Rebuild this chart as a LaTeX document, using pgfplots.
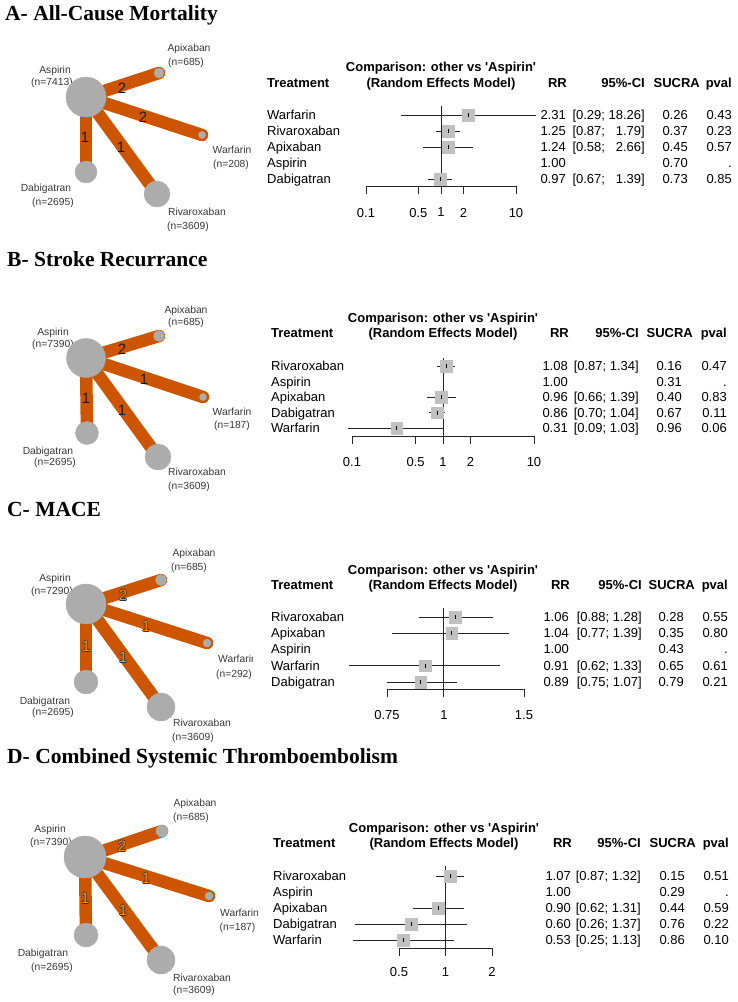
\documentclass[border=0pt]{standalone}
\usepackage{pgfplots}
\pgfplotsset{compat=1.18}
\usepackage{fontspec}
\setmainfont{Liberation Sans}
\newfontfamily\titlefont{Liberation Serif}

\definecolor{edgecol}{RGB}{205,85,0}
\definecolor{nodecol}{RGB}{172,172,172}
\definecolor{boxcol}{RGB}{192,192,192}
\definecolor{lblcol}{RGB}{55,55,55}
\definecolor{numcol}{RGB}{245,150,30}

\newcommand\ff{\fontsize{13}{15}\selectfont}
\newcommand\tf{\titlefont\bfseries\fontsize{21.5}{24}\selectfont}

\pgfplotsset{
  netaxis/.style={hide axis, scale only axis, xmin=0, y dir=reverse, anchor=south west},
  netedge/.style={edgecol, line width=12.5pt, line cap=round},
  netnode/.style={scatter, only marks, mark=*,
    scatter/use mapped color={draw=nodecol, fill=nodecol},
    visualization depends on={\thisrow{r} \as \rad},
    scatter/@pre marker code/.append style={/tikz/mark size=\rad}},
  fpaxis/.style={scale only axis, axis x line*=bottom, axis y line=none,
    tick align=outside, major tick length=7.5pt, clip=false, anchor=south west,
    axis line style={black!85, line width=0.9pt},
    major tick style={black!85, line width=0.9pt},
    xminorticks=false,
    xticklabel style={font=\ff}},
  ciline/.style={black!85, line width=0.9pt},
  estbox/.style={only marks, mark=square*, mark size=5.8pt, boxcol},
  esttick/.style={only marks, mark=|, mark size=2pt, black, mark options={line width=0.7pt}},
}

% network labels (inside the network axes)
\newcommand\nlab[3]{\node[anchor=base, yshift=-3.7pt, inner sep=0pt, text=lblcol,
  font=\fontsize{10.3}{12}\selectfont] at (axis cs:#1,#2) {#3};}
\newcommand\elab[3]{\node[anchor=base, yshift=-5.4pt, inner sep=0pt,
  font=\fontsize{15}{15}\selectfont, text=black!90] at (axis cs:#1,#2) {#3};}
\newcommand\olab[3]{%
  \node[anchor=base, yshift=-5.4pt, xshift=0.7pt, inner sep=0pt, font=\fontsize{15}{15}\selectfont, text=black!80] at (axis cs:#1,#2) {#3};
  \node[anchor=base, yshift=-5.4pt, xshift=-0.7pt, inner sep=0pt, font=\fontsize{15}{15}\selectfont, text=black!80] at (axis cs:#1,#2) {#3};
  \node[anchor=base, yshift=-4.7pt, inner sep=0pt, font=\fontsize{15}{15}\selectfont, text=black!80] at (axis cs:#1,#2) {#3};
  \node[anchor=base, yshift=-6.1pt, inner sep=0pt, font=\fontsize{15}{15}\selectfont, text=black!80] at (axis cs:#1,#2) {#3};
  \node[anchor=base, yshift=-5.4pt, inner sep=0pt, font=\fontsize{15}{15}\selectfont, text=numcol] at (axis cs:#1,#2) {#3};}

% forest table text (global pixel scope)
\newcommand\frow[6]{%
  \node[anchor=base west] at (\cT,#1+4.5) {#2};
  \node[anchor=base east] at (\cRR,#1+4.5) {#3};
  \node[anchor=base east] at (\cCI,#1+4.5) {#4};
  \node[anchor=base east] at (\cS,#1+4.5) {#5};
  \node[anchor=base east] at (\cP,#1+4.5) {#6};}
\newcommand\fhead[2]{%
  \node[anchor=base, font=\ff\bfseries] at (\cC,#1+4.5) {Comparison: other vs \textquotesingle Aspirin\textquotesingle};
  \node[anchor=base, font=\ff\bfseries] at (\cC,#2+4.5) {(Random Effects Model)};
  \node[anchor=base west, font=\ff\bfseries] at (\cT,#2+4.5) {Treatment};
  \node[anchor=base east, font=\ff\bfseries] at (\cRR+1,#2+4.5) {RR};
  \node[anchor=base east, font=\ff\bfseries] at (\cCI,#2+4.5) {95\%-CI};
  \node[anchor=base east, font=\ff\bfseries] at (\cSh,#2+4.5) {SUCRA};
  \node[anchor=base east, font=\ff\bfseries] at (\cP,#2+4.5) {pval};}

\begin{document}
\begin{tikzpicture}
\path[use as bounding box] (0pt,0pt) rectangle (737pt,-1002pt);

% ================= A: network =================
\begin{axis}[netaxis, width=262pt, height=212pt, xmax=262, ymin=28, ymax=240,
  at={(0pt,-240pt)}, clip=false]
\addplot[netedge] coordinates {(86,97)(159,73)};
\addplot[netedge] coordinates {(86,97)(202,135)};
\addplot[netedge] coordinates {(86,97)(86,172)};
\addplot[netedge] coordinates {(86,97)(157,194)};
\addplot[netnode] table {
x y r
86 97 20
159 73 5
202 135 3.5
86 172 11
157 194 13
};
\elab{122}{88}{2}\elab{143}{117}{2}\elab{85}{137}{1}\elab{121}{147}{1}
\nlab{55}{70}{Aspirin}\nlab{52}{82}{(n=7413)}
\nlab{189}{48}{Apixaban}\nlab{186}{62}{(n=685)}
\nlab{232}{150}{Warfarin}\nlab{231}{164}{(n=208)}
\nlab{46}{188}{Dabigatran}\nlab{53}{202}{(n=2695)}
\nlab{197}{212}{Rivaroxaban}\nlab{188}{226}{(n=3609)}
\end{axis}

% ================= A: forest =================
\begin{axis}[fpaxis, xmode=log, width=150pt, height=80pt, xmin=0.1, xmax=10,
  ymin=0.5625, ymax=5.5625, xtick={0.1,0.5,1,2,10},
  xticklabels={0.1,0.5,1,2,10}, xticklabel style={yshift=-11pt},
  at={(366pt,-186pt)}]
\addplot[ciline] coordinates {(1,0.5625)(1,5.5625)};
\addplot[ciline] coordinates {(0.29,5)(18.26,5)};
\addplot[ciline] coordinates {(0.87,4)(1.79,4)};
\addplot[ciline] coordinates {(0.58,3)(2.66,3)};
\addplot[ciline] coordinates {(0.67,1)(1.39,1)};
\addplot[estbox] coordinates {(2.31,5)(1.25,4)(1.24,3)(0.97,1)};
\addplot[esttick] coordinates {(2.31,5)(1.25,4)(1.24,3)(0.97,1)};
\end{axis}

% ================= B: network =================
\begin{axis}[netaxis, width=262pt, height=215pt, xmax=262, ymin=280, ymax=495,
  at={(0pt,-495pt)}, clip=false]
\addplot[netedge] coordinates {(86,358)(159,336)};
\addplot[netedge] coordinates {(86,358)(203,397)};
\addplot[netedge] coordinates {(86,358)(87,433)};
\addplot[netedge] coordinates {(86,358)(158,457)};
\addplot[netnode] table {
x y r
86 358 19.5
159 336 5.5
203 397 3.5
87 433 11.5
158 457 13
};
\elab{122}{349}{2}\elab{144}{379}{1}\elab{86}{398}{1}\elab{122}{410}{1}
\nlab{53}{332}{Aspirin}\nlab{53}{344}{(n=7390)}
\nlab{186}{310}{Apixaban}\nlab{186}{322}{(n=685)}
\nlab{232}{412}{Warfarin}\nlab{232}{425}{(n=187)}
\nlab{48}{451}{Dabigatran}\nlab{55}{462}{(n=2695)}
\nlab{197}{472}{Rivaroxaban}\nlab{189}{486}{(n=3609)}
\end{axis}

% ================= B: forest =================
\begin{axis}[fpaxis, xmode=log, width=182pt, height=78pt, xmin=0.1, xmax=10,
  ymin=0.4839, ymax=5.516, xtick={0.1,0.5,1,2,10},
  xticklabels={0.1,0.5,1,2,10}, xticklabel style={yshift=-10.5pt},
  at={(352pt,-436pt)}]
\addplot[ciline] coordinates {(1,0.4839)(1,5.516)};
\addplot[ciline] coordinates {(0.87,5)(1.34,5)};
\addplot[ciline] coordinates {(0.66,3)(1.39,3)};
\addplot[ciline] coordinates {(0.70,2)(1.04,2)};
\addplot[ciline] coordinates {(0.09,1)(1.03,1)};
\addplot[estbox] coordinates {(1.08,5)(0.96,3)(0.86,2)(0.31,1)};
\addplot[esttick] coordinates {(1.08,5)(0.96,3)(0.86,2)(0.31,1)};
\end{axis}

% ================= C: network =================
\begin{axis}[netaxis, width=252pt, height=215pt, xmax=252, ymin=533, ymax=748,
  at={(0pt,-748pt)}, clip=true]
\addplot[netedge] coordinates {(86,604)(161,580)};
\addplot[netedge] coordinates {(86,604)(207,643)};
\addplot[netedge] coordinates {(86,604)(86,682)};
\addplot[netedge] coordinates {(86,604)(161,707)};
\addplot[netnode] table {
x y r
86 604 20
161 580 5.5
207 643 4
86 682 12
161 707 14
};
\olab{123}{595}{2}\olab{146}{626}{1}\olab{86}{646}{1}\olab{123}{657}{1}
\nlab{55}{578}{Aspirin}\nlab{52}{591}{(n=7290)}
\nlab{194}{553}{Apixaban}\nlab{189}{567}{(n=685)}
\nlab{237.5}{659}{Warfarin}\nlab{234}{674}{(n=292)}
\nlab{45}{701}{Dabigatran}\nlab{53}{712}{(n=2695)}
\nlab{202}{723}{Rivaroxaban}\nlab{193}{737}{(n=3609)}
\end{axis}

% ================= C: forest =================
\begin{axis}[fpaxis, xmode=log, width=137pt, height=81pt, xmin=0.75, xmax=1.5,
  ymin=0.5692, ymax=5.5538, xtick={0.75,1,1.5},
  xticklabels={0.75,1,1.5}, xticklabel style={yshift=-10.5pt},
  at={(387pt,-689pt)}]
\addplot[ciline] coordinates {(1,0.5692)(1,5.5538)};
\addplot[ciline] coordinates {(0.88,5)(1.28,5)};
\addplot[ciline] coordinates {(0.77,4)(1.39,4)};
\addplot[ciline] coordinates {(0.62,2)(1.33,2)};
\addplot[ciline] coordinates {(0.75,1)(1.07,1)};
\addplot[estbox] coordinates {(1.06,5)(1.04,4)(0.91,2)(0.89,1)};
\addplot[esttick] coordinates {(1.06,5)(1.04,4)(0.91,2)(0.89,1)};
\end{axis}

% ================= D: network =================
\begin{axis}[netaxis, width=257pt, height=227pt, xmax=257, ymin=775, ymax=1002,
  at={(0pt,-1002pt)}, clip=true]
\addplot[netedge] coordinates {(85,857)(162,831)};
\addplot[netedge] coordinates {(85,857)(209,896)};
\addplot[netedge] coordinates {(85,857)(86,935)};
\addplot[netedge] coordinates {(85,857)(161,960)};
\addplot[netnode] table {
x y r
85 857 21
162 831 6
209 896 4
86 935 12
161 960 14
};
\olab{122}{846}{2}\olab{146}{878}{1}\olab{85}{898}{1}\olab{123}{910}{1}
\nlab{50}{829}{Aspirin}\nlab{51}{842}{(n=7390)}
\nlab{195}{803}{Apixaban}\nlab{191}{817}{(n=685)}
\nlab{239.5}{913}{Warfarin}\nlab{237.5}{927}{(n=187)}
\nlab{43}{953}{Dabigatran}\nlab{52}{967}{(n=2695)}
\nlab{202}{978}{Rivaroxaban}\nlab{194}{990}{(n=3609)}
\end{axis}

% ================= D: forest =================
\begin{axis}[fpaxis, xmode=log, width=93pt, height=82pt, xmin=0.5, xmax=2,
  ymin=0.5, ymax=5.625, xtick={0.5,1,2},
  xticklabels={0.5,1,2}, xticklabel style={yshift=-8.5pt},
  at={(399pt,-948pt)}]
\addplot[ciline] coordinates {(1,0.5)(1,5.625)};
\addplot[ciline] coordinates {(0.87,5)(1.32,5)};
\addplot[ciline] coordinates {(0.62,3)(1.31,3)};
\addplot[ciline] coordinates {(0.26,2)(1.37,2)};
\addplot[ciline] coordinates {(0.25,1)(1.13,1)};
\addplot[estbox] coordinates {(1.07,5)(0.90,3)(0.60,2)(0.53,1)};
\addplot[esttick] coordinates {(1.07,5)(0.90,3)(0.60,2)(0.53,1)};
\end{axis}

% ================= text =================
\begin{scope}[x=1pt, y=-1pt, every node/.style={inner sep=0pt}, font=\ff]
\node[anchor=base west, font=\tf] at (5,20) {A- All-Cause Mortality};
\node[anchor=base west, font=\tf] at (7,266) {B- Stroke Recurrance};
\node[anchor=base west, font=\tf] at (7,516) {C- MACE};
\node[anchor=base west, font=\tf] at (7,763) {D- Combined Systemic Thromboembolism};

% A
\def\cT{267}\def\cRR{566}\def\cCI{645}\def\cS{688}\def\cSh{700}\def\cP{732}\def\cC{441}
\fhead{67}{83}
\frow{115}{Warfarin}{2.31}{[0.29; 18.26]}{0.26}{0.43}
\frow{131}{Rivaroxaban}{1.25}{[0.87;\phantom{1} 1.79]}{0.37}{0.23}
\frow{147}{Apixaban}{1.24}{[0.58;\phantom{1} 2.66]}{0.45}{0.57}
\frow{163}{Aspirin}{1.00}{}{0.70}{.}
\frow{179}{Dabigatran}{0.97}{[0.67;\phantom{1} 1.39]}{0.73}{0.85}

% B
\def\cT{271}\def\cRR{568}\def\cCI{639}\def\cS{682}\def\cSh{693}\def\cP{727}\def\cC{443}
\fhead{318}{333}
\frow{366}{Rivaroxaban}{1.08}{[0.87; 1.34]}{0.16}{0.47}
\frow{381.5}{Aspirin}{1.00}{}{0.31}{.}
\frow{397}{Apixaban}{0.96}{[0.66; 1.39]}{0.40}{0.83}
\frow{412.5}{Dabigatran}{0.86}{[0.70; 1.04]}{0.67}{0.11}
\frow{428}{Warfarin}{0.31}{[0.09; 1.03]}{0.96}{0.06}

% C
\def\cT{271}\def\cRR{569}\def\cCI{642}\def\cS{684}\def\cSh{695}\def\cP{728}\def\cC{443}
\fhead{570}{585}
\frow{617}{Rivaroxaban}{1.06}{[0.88; 1.28]}{0.28}{0.55}
\frow{633}{Apixaban}{1.04}{[0.77; 1.39]}{0.35}{0.80}
\frow{649}{Aspirin}{1.00}{}{0.43}{.}
\frow{665.5}{Warfarin}{0.91}{[0.62; 1.33]}{0.65}{0.61}
\frow{682}{Dabigatran}{0.89}{[0.75; 1.07]}{0.79}{0.21}

% D
\def\cT{273}\def\cRR{571}\def\cCI{641}\def\cS{685}\def\cSh{696}\def\cP{729}\def\cC{444}
\fhead{828}{843}
\frow{876}{Rivaroxaban}{1.07}{[0.87; 1.32]}{0.15}{0.51}
\frow{892}{Aspirin}{1.00}{}{0.29}{.}
\frow{907.5}{Apixaban}{0.90}{[0.62; 1.31]}{0.44}{0.59}
\frow{923.5}{Dabigatran}{0.60}{[0.26; 1.37]}{0.76}{0.22}
\frow{940}{Warfarin}{0.53}{[0.25; 1.13]}{0.86}{0.10}
\end{scope}
\end{tikzpicture}
\end{document}
